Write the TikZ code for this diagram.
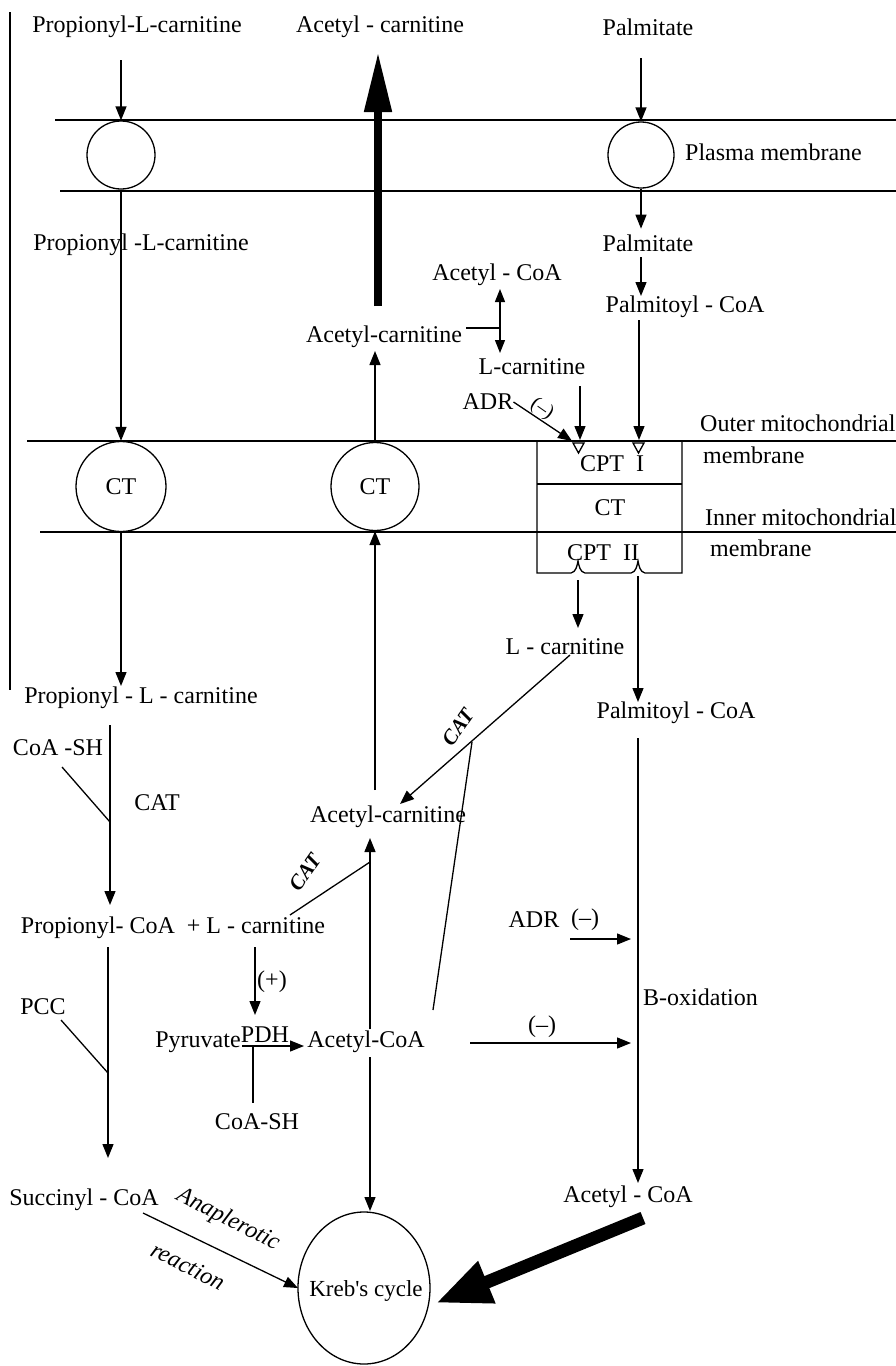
\documentclass[tikz,border=0pt]{standalone}
\usepackage{fontspec}
\setmainfont{Liberation Serif}
\usetikzlibrary{arrows.meta,calc,shapes.geometric}
\begin{document}
\begin{tikzpicture}[x={(1pt,0pt)},y={(0pt,-1pt)},
  txt/.style={inner sep=0pt, font=\fontsize{24}{28}\selectfont},
  ln/.style={line width=1.3pt},
  arr/.style={ln,-{Triangle[length=14pt,width=11pt]}},
  mem/.style={line width=1.8pt},
  circ/.style={circle,draw,ln,fill=white,inner sep=0pt,font=\fontsize{24}{28}\selectfont},
  catlbl/.style={inner sep=0pt,font=\fontsize{21}{24}\selectfont\itshape\bfseries},
  anlbl/.style={inner sep=0pt,font=\fontsize{24}{28}\selectfont\itshape,rotate=-27}]
\useasboundingbox (0,0) rectangle (896,1366);

% left border
\draw[ln] (10,12) -- (10,690);

% membranes
\draw[mem] (55,120) -- (896,120);
\draw[mem] (60,191) -- (896,191);
\draw[mem] (27,441) -- (896,441);
\draw[mem] (40,532) -- (896,532);

% top labels
\node[txt] (tpc) at (137,27) {Propionyl-L-carnitine};
\node[txt] (tac) at (380,27) {Acetyl - carnitine};
\node[txt] (tpa) at (648,27) {Palmitate};
\node[txt,anchor=west] (plm) at (685,152) {Plasma membrane};

% plasma membrane carriers
\node[circ,minimum size=68pt] (pm1) at (121,155) {};
\node[circ,minimum size=66pt] (pm2) at (641,155) {};

\draw[arr] ($(pm1.north)+(0,-60)$) -- (pm1.north);
\draw[arr] ($(pm2.north)+(0,-63)$) -- (pm2.north);

% cytosol
\node[txt] (pc2) at (141,245) {Propionyl -L-carnitine};
\node[txt] (pa2) at (648,243) {Palmitate};
\node[txt] (pcoa) at (685,307) {Palmitoyl - CoA};
\node[txt] (acoa1) at (497,275) {Acetyl - CoA};
\node[txt] (acar1) at (384,337) {Acetyl-carnitine};
\node[txt] (lcar1) at (532,367) {L-carnitine};
\node[txt] (adr1) at (488,402) {ADR};

% mitochondrial carriers
\node[circ,minimum size=90pt] (ct1) at (121,486.5) {CT};
\node[circ,minimum size=88pt] (ct2) at (375,486.5) {CT};

% CPT box
\draw[ln] (537,441) -- (537,573) -- (571,573) .. controls (576,572) and (577,566) .. (578,561)
  .. controls (579,566) and (580,572) .. (585,573) -- (631,573)
  .. controls (636,572) and (637,566) .. (638,561)
  .. controls (639,566) and (640,572) .. (645,573) -- (682,573) -- (682,441);
\draw[mem] (537,484) -- (682,484);
\node[txt] (cpt1) at (612,464) {CPT\ \ I};
\node[txt] (ctb) at (610,508) {CT};
\node[txt] (cpt2) at (603,553) {CPT\ \ II};

\node[txt,anchor=west] (om1) at (700,423) {Outer mitochondrial};
\node[txt,anchor=west] (om2) at (703,455) {membrane};
\node[txt,anchor=west] (im1) at (705,517) {Inner mitochondrial};
\node[txt,anchor=west] (im2) at (710,548) {membrane};

% cytosol arrows
\draw[arr] (pm1.south) -- (ct1.north);
\draw[arr] (pm2.south) -- ($(pm2.south)+(0,40)$);
\draw[arr] (641,257) -- (641,296);
\draw[arr] (639,320) -- (639,440);
\draw[line width=8pt,-{Triangle[length=60pt,width=26pt]}] (378,306) -- (378,52);
\draw[arr] (ct2.north) -- (375,351);
\draw[ln,{Triangle[length=13pt,width=10pt]}-{Triangle[length=13pt,width=10pt]}] (500,289) -- (500,353);
\draw[ln] (466,328) -- (500,328);
\draw[arr] (580,386) -- (580,440);
\draw[arr] (adr1.east) -- (572,441);
\node[inner sep=0pt,font=\fontsize{20}{22}\selectfont,rotate=-35] (inh1) at (542,409) {(--)};
% open triangles
\draw[ln,fill=white] (573,443) -- (584,443) -- (578.5,453) -- cycle;
\draw[ln,fill=white] (633,443) -- (644,443) -- (638.5,453) -- cycle;

% matrix
\node[txt] (lcar2) at (565,647) {L - carnitine};
\node[txt] (pcoa2) at (676,713) {Palmitoyl - CoA};
\draw[arr] (578,580) -- (578,628);
\draw[arr] (638,576) -- (638,702);
\node[txt,anchor=west] (box) at (643,997) {B-oxidation};
\node[txt] (acoa3) at (628,1197) {Acetyl - CoA};
\draw[arr] (638,738) -- (638,1183);

\node[txt] (pc3) at (141,698) {Propionyl - L - carnitine};
\draw[arr] (ct1.south) -- (121,686);
\node[txt] (coash1) at (58,748) {CoA -SH};
\node[txt] (cat1) at (157,803) {CAT};
\draw[arr] (110,725) -- (110,905);
\draw[ln] (62,767) -- (110,822);

\node[txt] (acar2) at (388,817) {Acetyl-carnitine};
\draw[arr] (375,790) -- (ct2.south);

\node[txt] (pcoa3) at (173,928) {Propionyl- CoA\ \ + L - carnitine};
\draw[arr] (108,947) -- (108,1158);
\node[txt] (pcc) at (43,1007) {PCC};
\draw[ln] (61,1020) -- (108,1073);
\draw[arr] (255,947) -- (255,1015);
\node[txt] (plus) at (272,982) {(+)};

\node[txt] (pyr) at (198,1042) {Pyruvate};
\node[txt] (pdh) at (265,1035) {PDH};
\draw[arr] (242,1046) -- (304,1046);
\draw[ln] (253,1046) -- (253,1103);
\node[txt] (coash2) at (257,1122) {CoA-SH};
\node[txt] (acoa2) at (366,1042) {Acetyl-CoA};

\draw[ln] (290,915) -- (370,862);
\node[catlbl,rotate=55] (cat2) at (305,872) {CAT};
\draw[arr] (370,1029) -- (370,838);
\draw[arr] (570,655) -- (400,804);
\node[catlbl,rotate=55] (cat3) at (458,727) {CAT};
\draw[ln] (472,742) -- (433,1010);

\node[txt] (adr2) at (534,920) {ADR};
\node[txt] (m1) at (585,920) {(--)};
\draw[arr] (570,939) -- (631,939);
\node[txt] (m2) at (542,1027) {(--)};
\draw[arr] (470,1043) -- (631,1043);

% Krebs
\node[ellipse,draw,ln,minimum width=132pt,minimum height=152pt,inner sep=0pt] (kreb) at (364,1288) {};
\node[inner sep=0pt,font=\fontsize{23}{26}\selectfont] (kt) at (366,1291) {Kreb\textquotesingle s cycle};
\draw[arr] (370,1057) -- (370,1211);
\node[txt] (succ) at (84,1200) {Succinyl - CoA};
\draw[arr] (143,1213) -- (298,1288);
\node[anlbl] (ana) at (228,1220) {Anaplerotic};
\node[anlbl] (rea) at (188,1266) {reaction};
\draw[line width=13pt,-{Triangle[length=55pt,width=42pt]}] (643,1218) -- (436,1303);
\end{tikzpicture}
\end{document}
